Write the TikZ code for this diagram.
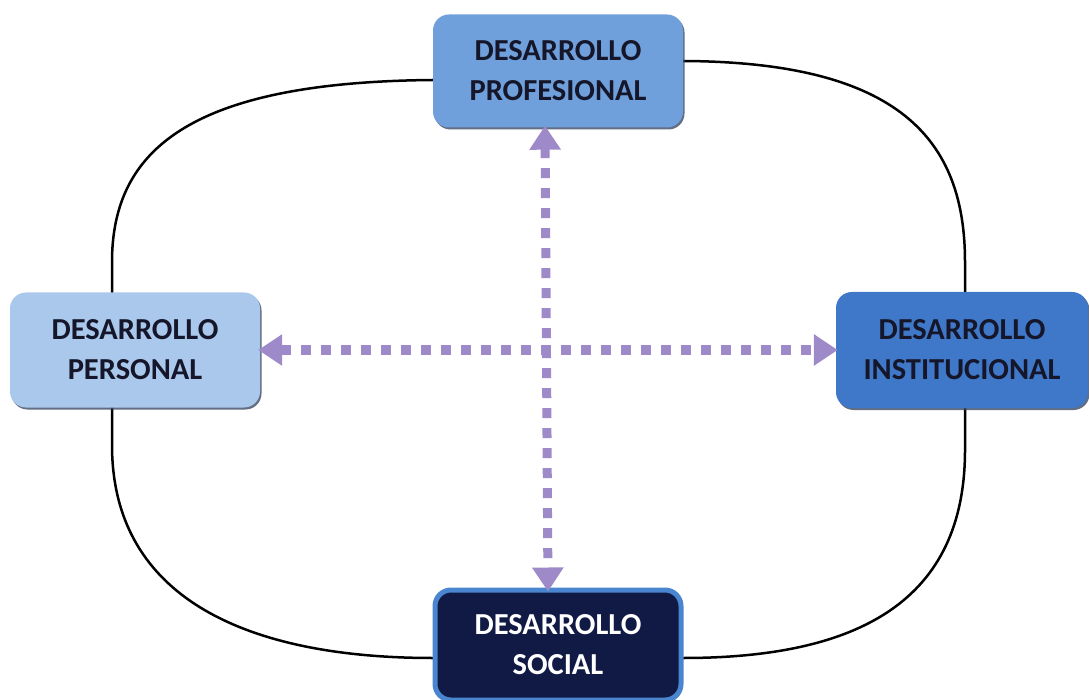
\documentclass[tikz,border=0pt]{standalone}
\usepackage{fontspec}
\setmainfont{Carlito}
\usetikzlibrary{arrows.meta,shadows}
\definecolor{cTop}{HTML}{6FA0DC}
\definecolor{cLeft}{HTML}{A9C8EC}
\definecolor{cRight}{HTML}{3F78C8}
\definecolor{cBot}{HTML}{101A45}
\definecolor{cBotEdge}{HTML}{4A86D0}
\definecolor{cArr}{HTML}{9E8AC8}
\definecolor{cTxt}{HTML}{15162A}
\definecolor{cShadow}{HTML}{3A4A66}
\begin{document}
\begin{tikzpicture}[x=1pt,y=-1pt,
  box/.style={rectangle, rounded corners=16pt, minimum width=250pt, minimum height=113pt,
    align=center, font=\fontsize{30.5}{40}\selectfont\bfseries, text=cTxt,
    drop shadow={shadow xshift=1.5pt, shadow yshift=-2pt, fill=cShadow, opacity=0.8}},
  loop/.style={line width=2.5pt, black},
  arr/.style={line width=9pt, cArr, dash pattern=on 10pt off 10pt,
    {Triangle[width=30pt,length=24pt]}-{Triangle[width=30pt,length=24pt]}}]
\useasboundingbox (0,0) rectangle (1089,700);
\fill[white] (0,0) rectangle (1089,700);
% loop behind boxes
\coordinate (tl) at (433,80);
\coordinate (tr) at (683,61);
\draw[loop] (tl) .. controls (190,82) and (112,150) .. (112,262) -- (112,295);
\draw[loop] (tr) .. controls (900,62) and (965,140) .. (965,262) -- (965,293);
\draw[loop] (112,406) -- (112,445) .. controls (112,600) and (250,658) .. (433,658);
\draw[loop] (965,406) -- (965,450) .. controls (965,600) and (860,658) .. (683,658);
% boxes
\node[box, fill=cTop] (top) at (558,71) {DESARROLLO\\PROFESIONAL};
\node[box, fill=cLeft, minimum height=115pt] (left) at (135,350) {DESARROLLO\\PERSONAL};
\node[box, fill=cRight, minimum width=252pt, minimum height=116pt] (right) at (962,350) {DESARROLLO\\INSTITUCIONAL};
\node[box, fill=cBot, draw=cBotEdge, line width=5pt, text=white, minimum width=246pt, minimum height=110pt] (bot) at (558,645) {DESARROLLO\\SOCIAL};
% arrows
\draw[arr] ([xshift=-2pt]left.east) -- ([xshift=2pt]right.west);
\draw[arr] ([xshift=-13pt,yshift=2pt]top.south) -- ([xshift=-10pt,yshift=-4pt]bot.north);
\end{tikzpicture}
\end{document}
